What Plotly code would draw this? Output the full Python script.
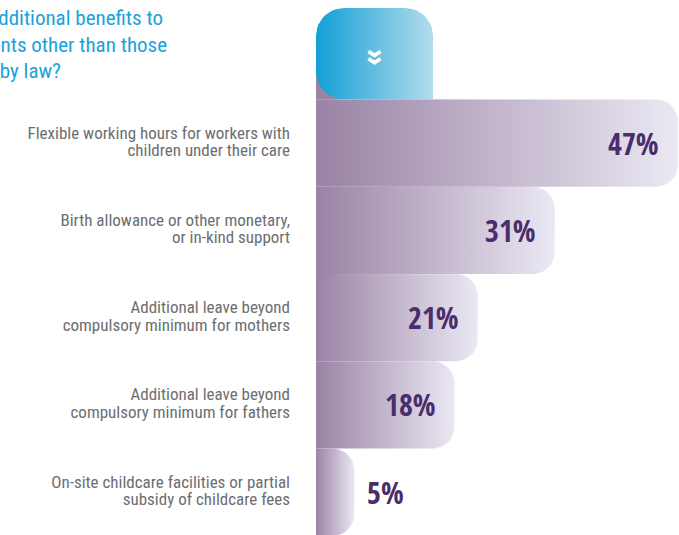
import numpy as np
import plotly.graph_objects as go

# Survey answers: share of companies offering each benefit
categories = [
    "Flexible working hours for workers with<br>children under their care",
    "Birth allowance or other monetary,<br>or in-kind support",
    "Additional leave beyond<br>compulsory minimum for mothers",
    "Additional leave beyond<br>compulsory minimum for fathers",
    "On-site childcare facilities or partial<br>subsidy of childcare fees",
]
values = [47, 31, 21, 18, 5]
value_labels = ["47%", "31%", "21%", "18%", "5%"]

title_lines = [
    "Does your company",
    "provide additional benefits to",
    "parents other than those",
    "required by law?",
]

W, H = 679, 535
X_RANGE = [-41.04, 47.14]
Y_RANGE = [4.49, -1.638]
SX = W / (X_RANGE[1] - X_RANGE[0])          # px per x unit
SY = H / abs(Y_RANGE[0] - Y_RANGE[1])       # px per y unit

BAR_LEFT = "#9a83a5"
BAR_RIGHT = "#ebe8f3"
CYAN_LEFT = "#139fd5"
CYAN_RIGHT = "#b3dcec"
GREY = "#6d6e71"
PURPLE_TXT = "#4a2d6a"
TITLE_BLUE = "#1ba1dc"
TEXT_FONT = "Roboto, sans-serif"            # narrowed to condensed below
VALUE_FONT = "Open Sans Condensed, Roboto, sans-serif"


def px_x(px):
    return X_RANGE[0] + px / SX


def px_y(py):
    return Y_RANGE[1] + py / SY


def rounded_box(x0, x1, y0, y1, r_px, corners):
    """Polygon of a box with selected rounded corners (tl, tr, br, bl), y0 above y1."""
    rx, ry = r_px / SX, r_px / SY
    t = np.linspace(0, np.pi / 2, 12)
    xs, ys = [], []
    if "tl" in corners:
        xs += list(x0 + rx - rx * np.cos(t)); ys += list(y0 + ry - ry * np.sin(t))
    else:
        xs.append(x0); ys.append(y0)
    if "tr" in corners:
        xs += list(x1 - rx + rx * np.sin(t)); ys += list(y0 + ry - ry * np.cos(t))
    else:
        xs.append(x1); ys.append(y0)
    if "br" in corners:
        xs += list(x1 - rx + rx * np.cos(t)); ys += list(y1 - ry + ry * np.sin(t))
    else:
        xs.append(x1); ys.append(y1)
    if "bl" in corners:
        xs += list(x0 + rx - rx * np.sin(t)); ys += list(y1 - ry + ry * np.cos(t))
    else:
        xs.append(x0); ys.append(y1)
    xs.append(xs[0]); ys.append(ys[0])
    return xs, ys


fig = go.Figure()

# header tab on top of the bar column
hdr_x1 = (433 - 316) / SX
hdr_y0 = px_y(8)
sx_, sy_ = rounded_box(0, 3.2, hdr_y0 + 40 / SY, -0.5, 0, "")
fig.add_trace(go.Scatter(x=sx_, y=sy_, mode="lines", line=dict(width=0),
                         fill="toself", fillcolor=BAR_LEFT, hoverinfo="skip"))
hx, hy = rounded_box(0, hdr_x1, hdr_y0, -0.5, 28, ("tl", "tr", "bl"))
fig.add_trace(go.Scatter(
    x=hx, y=hy, mode="lines", line=dict(width=0), fill="toself",
    fillgradient=dict(type="horizontal",
                      colorscale=[[0, CYAN_LEFT], [1, CYAN_RIGHT]]),
    hoverinfo="skip"))

# bars drawn bottom-up so each one sits over the next
for i in reversed(range(len(values))):
    bx, by = rounded_box(0, values[i], i - 0.5, i + 0.5, 22, ("tr", "br"))
    fig.add_trace(go.Scatter(
        x=bx, y=by, mode="lines", line=dict(width=0), fill="toself",
        fillgradient=dict(type="horizontal",
                          colorscale=[[0, BAR_LEFT], [1, BAR_RIGHT]]),
        hoverinfo="skip"))

# category labels, one text point per line, right-aligned left of the bars
LABEL_GAP = 17.5   # px between the two lines of a label
lx, ly, lt = [], [], []
for i, cat in enumerate(categories):
    parts = cat.split("<br>")
    n = len(parts)
    for k, part in enumerate(parts):
        lx.append(px_x(290))
        ly.append(i + (k - (n - 1) / 2) * LABEL_GAP / SY)
        lt.append(part)
fig.add_trace(go.Scatter(
    x=lx, y=ly, text=lt, mode="text", textposition="middle left",
    textfont=dict(family=TEXT_FONT, size=17, color=GREY),
    hoverinfo="skip", cliponaxis=False))

# question text, running off the left edge
title_px = [(62, -4), (163, 20), (167, 47), (61, 73)]
fig.add_trace(go.Scatter(
    x=[px_x(p[0]) for p in title_px], y=[px_y(p[1]) for p in title_px],
    text=title_lines, mode="text", textposition="middle left",
    textfont=dict(family=TEXT_FONT, size=21, color=TITLE_BLUE),
    hoverinfo="skip", cliponaxis=False))

annotations = []
for i, (v, lab) in enumerate(zip(values, value_labels)):
    inside = v >= 10
    annotations.append(dict(
        x=v, y=i, xref="x", yref="y", text=lab, showarrow=False,
        xanchor="right" if inside else "left",
        xshift=-17 if inside else 10, yanchor="middle",
        font=dict(family=VALUE_FONT, size=30, color=PURPLE_TXT, weight=700)))

# chevron on the header tab
annotations.append(dict(
    x=(378 - 316) / SX, y=px_y(57), xref="x", yref="y",
    text="»", textangle=90, showarrow=False,
    font=dict(family=VALUE_FONT, size=30, color="white", weight=700)))

fig.update_layout(
    width=W, height=H, margin=dict(l=0, r=0, t=0, b=0),
    paper_bgcolor="white", plot_bgcolor="white", showlegend=False,
    xaxis=dict(range=X_RANGE, visible=False, fixedrange=True),
    yaxis=dict(range=Y_RANGE, visible=False, fixedrange=True),
    annotations=annotations,
)

# label and question text use the condensed width of the font
condense = """
document.querySelectorAll('g.textpoint text').forEach(function (t) {
  t.style.fontStretch = 'condensed';
});
"""
fig.write_html("out.html", post_script=condense)
